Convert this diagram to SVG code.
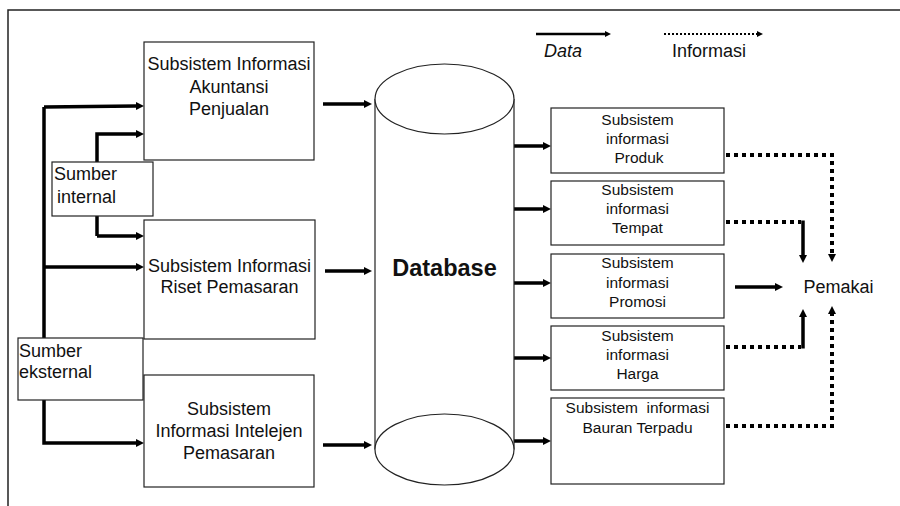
<svg xmlns="http://www.w3.org/2000/svg" width="900" height="506" viewBox="0 0 900 506">
<style>
text{font-family:"Liberation Sans",Arial,sans-serif;fill:#111}
.t18{font-size:18px}
.t15{font-size:15.5px}
.c{text-anchor:middle}
.box{fill:#fff;stroke:#222;stroke-width:1.2}
.data{fill:none;stroke:#000;stroke-width:3.5}
.info{fill:none;stroke:#000;stroke-width:4;stroke-dasharray:4 4}
</style>
<defs>
<marker id="ah" viewBox="0 0 8 8" refX="0" refY="4" markerWidth="8" markerHeight="8" markerUnits="userSpaceOnUse" orient="auto"><path d="M0,0 L8,4 L0,8 z" fill="#000"/></marker>
<marker id="ahs" viewBox="0 0 6 6" refX="0" refY="3" markerWidth="6" markerHeight="6" markerUnits="userSpaceOnUse" orient="auto"><path d="M0,0 L6,3 L0,6 z" fill="#000"/></marker>
</defs>
<rect width="900" height="506" fill="#fff"/>
<path d="M8,506 L8,10 L900,10" fill="none" stroke="#222" stroke-width="1.5"/>

<g id="legend">
<path d="M536,34 L605,34" fill="none" stroke="#000" stroke-width="2.5" marker-end="url(#ahs)"/>
<text x="563" y="57" class="t18 c" font-style="italic">Data</text>
<path d="M664,34 L757,34" fill="none" stroke="#000" stroke-width="2" stroke-dasharray="2 2" marker-end="url(#ahs)"/>
<text x="709" y="57" class="t18 c">Informasi</text>
</g>

<g id="connectors">
<path class="data" d="M44,107 L136,106" marker-end="url(#ah)"/>
<path class="data" d="M44,267 L136,267" marker-end="url(#ah)"/>
<path class="data" d="M44,107 L44,443 L136,443" marker-end="url(#ah)"/>
<path class="data" d="M97,236 L97,134 L136,134" marker-end="url(#ah)"/>
<path class="data" d="M97,236 L136,236" marker-end="url(#ah)"/>
<path class="data" d="M323,104 L364,104" marker-end="url(#ah)"/>
<path class="data" d="M325,271 L364,271" marker-end="url(#ah)"/>
<path class="data" d="M323,445 L364,445" marker-end="url(#ah)"/>
<path class="data" d="M514,146 L543,146" marker-end="url(#ah)"/>
<path class="data" d="M514,209 L543,209" marker-end="url(#ah)"/>
<path class="data" d="M514,283 L543,283" marker-end="url(#ah)"/>
<path class="data" d="M514,358 L543,358" marker-end="url(#ah)"/>
<path class="data" d="M514,441 L543,441" marker-end="url(#ah)"/>
<path class="data" d="M735,287 L775,287" marker-end="url(#ah)"/>
<path class="info" d="M726,155 L832,155 L832,254" marker-end="url(#ah)"/>
<path class="info" d="M726,222 L801,222"/>
<path class="data" d="M803,220.5 L803,255" marker-end="url(#ah)"/>
<path class="info" d="M726,347 L801,347"/>
<path class="data" d="M803,348.5 L803,317" marker-end="url(#ah)"/>
<path class="info" d="M726,426 L832,426 L832,314" marker-end="url(#ah)"/>
</g>

<g id="sia">
<rect class="box" x="144" y="42" width="170" height="118"/>
<text class="t18 c" x="229"><tspan x="229" y="70">Subsistem Informasi</tspan><tspan x="229" y="93">Akuntansi</tspan><tspan x="229" y="115">Penjualan</tspan></text>
</g>
<g id="sumber-internal">
<rect class="box" x="52" y="162" width="101" height="54"/>
<text class="t18"><tspan x="54" y="180">Sumber</tspan><tspan x="57" y="203">internal</tspan></text>
</g>
<g id="riset">
<rect class="box" x="144" y="220" width="171" height="119"/>
<text class="t18 c"><tspan x="229.5" y="272">Subsistem Informasi</tspan><tspan x="229.5" y="293">Riset Pemasaran</tspan></text>
</g>
<g id="sumber-eksternal">
<rect class="box" x="18" y="338" width="125" height="62"/>
<text class="t18"><tspan x="19" y="357">Sumber</tspan><tspan x="19" y="378">eksternal</tspan></text>
</g>
<g id="intelejen">
<rect class="box" x="144" y="375" width="170" height="112"/>
<text class="t18 c"><tspan x="229" y="415">Subsistem</tspan><tspan x="229" y="437">Informasi Intelejen</tspan><tspan x="229" y="459">Pemasaran</tspan></text>
</g>

<g id="database">
<path d="M375,99 L375,449.5 M514,99 L514,449.5" fill="none" stroke="#222" stroke-width="1.2"/>
<ellipse cx="444.5" cy="99" rx="69.5" ry="35" fill="#fff" stroke="#222" stroke-width="1.2"/>
<ellipse cx="444.5" cy="449.5" rx="69.5" ry="35.5" fill="#fff" stroke="#222" stroke-width="1.2"/>
<text x="444.5" y="276" class="c" font-size="23.5" font-weight="bold">Database</text>
</g>

<g id="produk">
<rect class="box" x="551" y="108" width="173" height="65"/>
<text class="t15 c"><tspan x="637.5" y="125">Subsistem</tspan><tspan x="637.5" y="144">informasi</tspan><tspan x="639" y="163">Produk</tspan></text>
</g>
<g id="tempat">
<rect class="box" x="551" y="181" width="173" height="64"/>
<text class="t15 c"><tspan x="637.5" y="195">Subsistem</tspan><tspan x="637.5" y="214">informasi</tspan><tspan x="637.5" y="233">Tempat</tspan></text>
</g>
<g id="promosi">
<rect class="box" x="551" y="254" width="173" height="64"/>
<text class="t15 c"><tspan x="637.5" y="268">Subsistem</tspan><tspan x="637.5" y="288">informasi</tspan><tspan x="637.5" y="307">Promosi</tspan></text>
</g>
<g id="harga">
<rect class="box" x="551" y="326" width="173" height="64"/>
<text class="t15 c"><tspan x="637.5" y="341">Subsistem</tspan><tspan x="637.5" y="360">informasi</tspan><tspan x="637.5" y="379">Harga</tspan></text>
</g>
<g id="bauran">
<rect class="box" x="551" y="398" width="173" height="86"/>
<text class="t15 c" xml:space="preserve"><tspan x="637.5" y="413">Subsistem  informasi</tspan><tspan x="637.5" y="433">Bauran Terpadu</tspan></text>
</g>

<g id="pemakai">
<text x="838.5" y="293" class="t18 c">Pemakai</text>
</g>
</svg>
